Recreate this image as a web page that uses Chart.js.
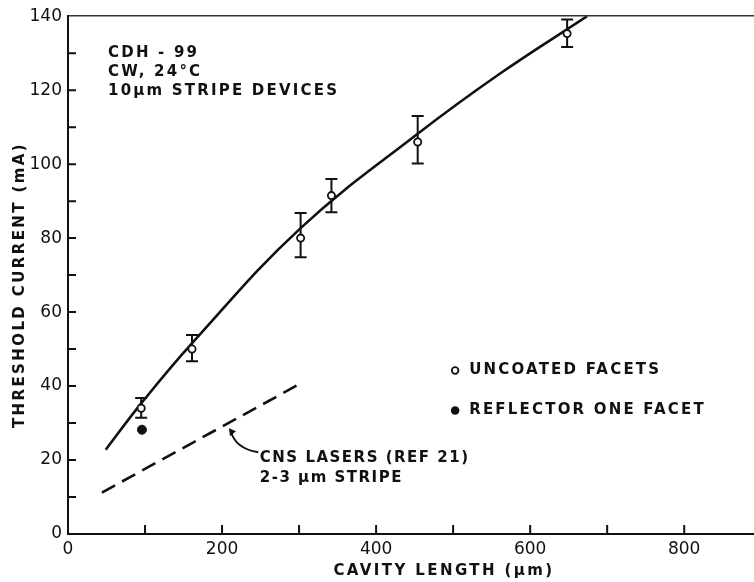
<!DOCTYPE html>
<html>
<head>
<meta charset="utf-8">
<script src="https://cdn.jsdelivr.net/npm/chart.js@4"></script>
<style>
  html, body { margin: 0; padding: 0; background: #fff; overflow: hidden; }
  #canvasDev { position: relative; width: 830px; height: 582px; }
</style>
</head>
<body>
<div id="canvasDev"><canvas id="canvas"></canvas></div>
<script>
// uncoated facet devices, with error bar ends
const lengthUncoated = [95, 161, 302, 342, 454, 648];
const threshUncoated = [34, 50, 80, 91.5, 106, 135.3];
const errLow = [31.4, 46.7, 74.8, 87, 100.2, 131.7];
const errHigh = [36.8, 53.8, 86.8, 96, 113, 139.1];

// device with a reflector on one facet
const lengthReflector = [96];
const threshReflector = [28.2];

// hand drawn fit through the uncoated devices
const fitLength = [49, 95, 162, 302, 454, 561, 674];
const fitThresh = [22.8, 35.3, 51.8, 82.7, 108.2, 124.5, 140];

// CNS lasers (ref 21)
const cnsLength = [44, 301];
const cnsThresh = [11.2, 40.6];

const xTicks = [0, 200, 400, 600, 800];
const yTicks = [0, 20, 40, 60, 80, 100, 120, 140];

const notes = ['CDH - 99', 'CW, 24°C', '10\u03bcm STRIPE DEVICES'];
const legendText = ['UNCOATED FACETS', 'REFLECTOR ONE FACET'];
const cnsText = ['CNS LASERS (REF 21)', '2-3 \u03bcm STRIPE'];

const FONT = '"DejaVu Sans", sans-serif';
const INK = '#111';

function toPoints(xs, ys) {
    return xs.map((x, i) => ({ x: x, y: ys[i] }));
}

// error bars go under the circles
const errorBars = {
    id: 'errorBars',
    beforeDatasetsDraw(chart) {
        const ctx = chart.ctx, xs = chart.scales.x, ys = chart.scales.y;
        ctx.save();
        ctx.strokeStyle = INK;
        ctx.lineWidth = 2;
        lengthUncoated.forEach((len, i) => {
            const px = xs.getPixelForValue(len);
            const top = ys.getPixelForValue(errHigh[i]);
            const bot = ys.getPixelForValue(errLow[i]);
            ctx.beginPath();
            ctx.moveTo(px, top); ctx.lineTo(px, bot);
            ctx.moveTo(px - 6, top); ctx.lineTo(px + 6, top);
            ctx.moveTo(px - 6, bot); ctx.lineTo(px + 6, bot);
            ctx.stroke();
        });
        ctx.restore();
    }
};

// tick marks pointing into the plot, plus all the lettering
const decorations = {
    id: 'decorations',
    afterDraw(chart) {
        const ctx = chart.ctx, xs = chart.scales.x, ys = chart.scales.y;
        const area = chart.chartArea;
        ctx.save();
        ctx.strokeStyle = INK;
        ctx.lineWidth = 2;
        ctx.beginPath();
        for (let v = 100; v <= 900; v += 100) {
            const px = xs.getPixelForValue(v);
            ctx.moveTo(px, area.bottom); ctx.lineTo(px, area.bottom - 9);
        }
        for (let v = 10; v < 140; v += 10) {
            const py = ys.getPixelForValue(v);
            ctx.moveTo(area.left, py); ctx.lineTo(area.left + 8, py);
        }
        ctx.stroke();

        ctx.fillStyle = INK;
        ctx.letterSpacing = '2.2px';
        ctx.font = 'bold 15px ' + FONT;
        ctx.textBaseline = 'middle';
        ctx.textAlign = 'left';

        // notes, top left
        const noteY = [130, 124.9, 119.8];
        notes.forEach((t, i) => {
            ctx.fillText(t, xs.getPixelForValue(52), ys.getPixelForValue(noteY[i]));
        });

        // legend
        const legX = xs.getPixelForValue(502.6);
        const legY = [ys.getPixelForValue(44.2), ys.getPixelForValue(33.4)];
        ctx.lineWidth = 1.8;
        ctx.beginPath();
        ctx.arc(legX, legY[0], 3.3, 0, Math.PI * 2);
        ctx.stroke();
        ctx.beginPath();
        ctx.arc(legX, legY[1], 4.3, 0, Math.PI * 2);
        ctx.fill();
        legendText.forEach((t, i) => {
            ctx.fillText(t, xs.getPixelForValue(520.8), legY[i]);
        });

        // CNS label with curved arrow onto the dashed line
        ctx.letterSpacing = '1.5px';
        const cnsY = [20.5, 15.1];
        cnsText.forEach((t, i) => {
            ctx.fillText(t, xs.getPixelForValue(249), ys.getPixelForValue(cnsY[i]));
        });
        const tipX = xs.getPixelForValue(209), tipY = ys.getPixelForValue(28.6);
        const tailX = xs.getPixelForValue(247), tailY = ys.getPixelForValue(22.1);
        ctx.lineWidth = 1.8;
        ctx.beginPath();
        ctx.moveTo(tailX, tailY);
        ctx.quadraticCurveTo(tipX + 6, tailY - 4, tipX + 2, tipY + 3);
        ctx.stroke();
        ctx.beginPath();
        ctx.moveTo(tipX, tipY);
        ctx.lineTo(tipX + 7, tipY + 3);
        ctx.lineTo(tipX + 1, tipY + 8);
        ctx.closePath();
        ctx.fill();

        // axis titles
        ctx.letterSpacing = '2.4px';
        ctx.font = 'bold 15px ' + FONT;
        ctx.textAlign = 'center';
        ctx.fillText('CAVITY LENGTH (\u03bcm)', 444, 571);
        ctx.translate(20, 285);
        ctx.rotate(-Math.PI / 2);
        ctx.fillText('THRESHOLD CURRENT (mA)', 0, 0);
        ctx.restore();
    }
};

const ctx = document.getElementById('canvas').getContext('2d');
const myChart = new Chart(ctx, {
    type: 'scatter',
    data: {
        datasets: [{
            label: 'fit',
            data: toPoints(fitLength, fitThresh),
            showLine: true,
            tension: 0.4,
            borderColor: INK,
            borderWidth: 2.6,
            pointRadius: 0,
            order: 3
        }, {
            label: 'CNS lasers',
            data: toPoints(cnsLength, cnsThresh),
            showLine: true,
            borderColor: INK,
            borderWidth: 2.6,
            borderDash: [15, 8],
            pointRadius: 0,
            order: 3
        }, {
            label: 'uncoated facets',
            data: toPoints(lengthUncoated, threshUncoated),
            pointRadius: 3.6,
            pointBackgroundColor: '#fff',
            pointBorderColor: INK,
            pointBorderWidth: 1.8,
            order: 1
        }, {
            label: 'reflector one facet',
            data: toPoints(lengthReflector, threshReflector),
            pointRadius: 4.5,
            pointBackgroundColor: INK,
            pointBorderColor: INK,
            pointBorderWidth: 1,
            order: 1
        }]
    },
    options: {
        responsive: true,
        maintainAspectRatio: false,
        animation: false,
        layout: { padding: { top: 15, right: 11, left: 0, bottom: 0 } },
        plugins: { legend: { display: false }, tooltip: { enabled: false } },
        scales: {
            x: {
                type: 'linear',
                min: 0,
                max: 975,
                afterFit(scale) { scale.height = 48; },
                afterBuildTicks(scale) {
                    scale.ticks = [0, 100, 200, 300, 400, 500, 600, 700, 800, 900].map(v => ({ value: v }));
                },
                ticks: {
                    autoSkip: false,
                    maxRotation: 0,
                    padding: 5,
                    color: INK,
                    font: { family: FONT, size: 17 },
                    callback: v => xTicks.includes(v) ? String(v) : ''
                },
                grid: { display: false, drawTicks: false },
                border: { color: INK, width: 2 }
            },
            y: {
                min: 0,
                max: 140,
                afterFit(scale) { scale.width = 68; },
                afterBuildTicks(scale) {
                    const t = [];
                    for (let v = 0; v <= 140; v += 10) t.push({ value: v });
                    scale.ticks = t;
                },
                ticks: {
                    autoSkip: false,
                    padding: 6,
                    color: INK,
                    font: { family: FONT, size: 17 },
                    callback: v => yTicks.includes(v) ? String(v) : ''
                },
                grid: {
                    drawTicks: false,
                    lineWidth: 1.6,
                    color: c => c.tick && c.tick.value === 140 ? '#333' : 'transparent'
                },
                border: { color: INK, width: 2 }
            }
        }
    },
    plugins: [errorBars, decorations]
});
</script>
</body>
</html>
